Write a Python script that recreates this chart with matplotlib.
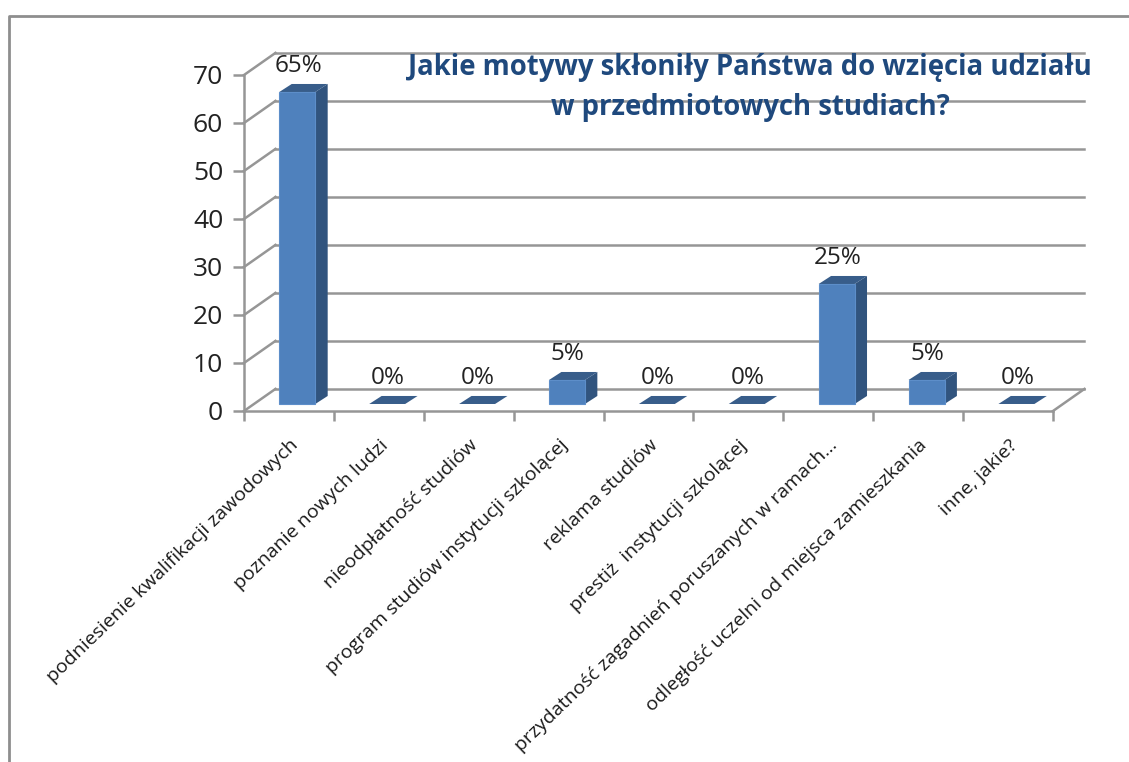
import matplotlib
matplotlib.use('Agg')
import matplotlib.pyplot as plt
from matplotlib.patches import Polygon

plt.rcParams['font.family'] = ['Open Sans', 'DejaVu Sans']

# Data
categories = ['podniesienie kwalifikacji zawodowych', 'poznanie nowych ludzi',
              'nieodpłatność studiów', 'program studiów instytucji szkolącej',
              'reklama studiów', 'prestiż  instytucji szkolącej',
              'przydatność zagadnień poruszanych w ramach…',
              'odległość uczelni od miejsca zamieszkania', 'inne, jakie?']
values = [65, 0, 0, 5, 0, 0, 25, 5, 0]
y_ticks = [0, 10, 20, 30, 40, 50, 60, 70]
title = 'Jakie motywy skłoniły Państwa do wzięcia udziału\nw przedmiotowych studiach?'

W, H = 1129, 762
GREY = '#969696'

fig = plt.figure(figsize=(W / 100, H / 100), dpi=100)

# outer frame of the chart area (only top and left are inside the crop)
frame = fig.add_axes([0, 0, 1, 1])
frame.set_xlim(0, W)
frame.set_ylim(H, 0)
frame.axis('off')
frame.plot([8.5, 8.5, W], [H, 15.5, 15.5], color='#8e8e8e', lw=2)

# front plane of the fake 3D box
ax = fig.add_axes([244 / W, (H - 411) / H, 809 / W, 336 / H])
ax.set_xlim(0, 9)
ax.set_ylim(0, 70)
ax.patch.set_alpha(0)

# depth in data units
wall_dx, wall_dy = 0.35, 4.6
bar_dx, bar_dy = 0.138, 1.67
base_dy = 1.46
bar_left, bar_w = 0.393, 0.4

for v in y_ticks:
    ax.plot([0, wall_dx], [v, v + wall_dy], color=GREY, lw=1.8, clip_on=False, zorder=1)
    ax.plot([wall_dx, 9 + wall_dx], [v + wall_dy, v + wall_dy], color=GREY, lw=1.8,
            clip_on=False, zorder=1)
ax.plot([9, 9 + wall_dx], [0, wall_dy], color=GREY, lw=1.8, clip_on=False, zorder=1)

for i, v in enumerate(values):
    x0 = i + bar_left
    x1 = x0 + bar_w
    y0 = base_dy
    y1 = base_dy + v
    # side, top, front
    if v > 0:
        ax.add_patch(Polygon([(x1, y0), (x1 + bar_dx, y0 + bar_dy), (x1 + bar_dx, y1 + bar_dy), (x1, y1)],
                             fc='#31547e', ec='none', clip_on=False, zorder=3))
    ax.add_patch(Polygon([(x0, y1), (x0 + bar_dx, y1 + bar_dy), (x1 + bar_dx, y1 + bar_dy), (x1, y1)],
                         fc='#385d8a', ec='none', clip_on=False, zorder=3))
    if v > 0:
        ax.add_patch(Polygon([(x0, y0), (x1, y0), (x1, y1), (x0, y1)],
                             fc='#4f81bd', ec='#5d8ec9', lw=0.8, clip_on=False, zorder=4))
    ax.annotate(f'{v}%', (x0 + bar_w / 2 + 0.01, y1 + bar_dy), xytext=(0, 4),
                textcoords='offset points', ha='center', va='bottom',
                fontsize=17.5, color='#222222', zorder=5, annotation_clip=False)

ax.set_yticks(y_ticks)
ax.set_xticks(range(10))
ax.set_xticklabels([])
ax.set_xticks([i + 0.5 for i in range(9)], minor=True)
ax.set_xticklabels(categories, minor=True, rotation=44, ha='right', va='top',
                   rotation_mode='anchor', fontsize=14, color='#1a1a1a')
ax.tick_params(axis='x', which='minor', length=0, pad=18)
ax.tick_params(axis='x', which='major', length=7, width=1.8, color=GREY)
ax.tick_params(axis='y', length=8, width=1.8, color=GREY, labelsize=19,
               labelcolor='#222222', pad=7)
for s in ['top', 'right']:
    ax.spines[s].set_visible(False)
for s in ['left', 'bottom']:
    ax.spines[s].set_color(GREY)
    ax.spines[s].set_linewidth(1.8)

frame.text(750, 87, title, ha='center', va='center', fontsize=19.8, fontweight='bold',
           color='#1f497d', linespacing=1.5, zorder=10)
frame.set_zorder(2)

fig.savefig('out.png', dpi=100)
